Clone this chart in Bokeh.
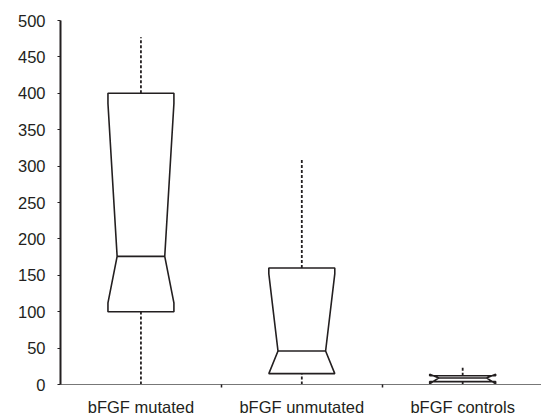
from bokeh.plotting import figure
from bokeh.models import Range1d, FixedTicker
from bokeh.embed import file_html
from bokeh.resources import INLINE

categories = ["bFGF mutated", "bFGF unmutated", "bFGF controls"]
lower = [0, 0, 0]
q1 = [100, 15, 4]
median = [176, 46, 9]
q3 = [400, 160, 12]
upper = [477, 310, 24]
notch_lo = [112, 15, 1]
notch_hi = [386, 152, 14]
y_ticks = [0, 50, 100, 150, 200, 250, 300, 350, 400, 450, 500]

BOX_HALF = 0.205
NOTCH_HALF = 0.148
INK = "#231f20"
FONT = "Liberation Sans"

p = figure(width=541, height=418, output_backend="svg", toolbar_location=None,
           x_range=Range1d(0, 2.99), y_range=Range1d(0, 500),
           min_border_left=60, min_border_right=0, min_border_top=20, min_border_bottom=30)
p.outline_line_color = None
p.grid.visible = False
p.background_fill_color = "white"

centers = [i + 0.5 for i in range(len(categories))]

xs, ys = [], []
for c, a, nl, m, nh, b in zip(centers, q1, notch_lo, median, notch_hi, q3):
    L, R, Ln, Rn = c - BOX_HALF, c + BOX_HALF, c - NOTCH_HALF, c + NOTCH_HALF
    xs.append([L, L, Ln, L, L, R, R, Rn, R, R])
    ys.append([a, nl, m, nh, b, b, nh, m, nl, a])
p.patches(xs, ys, fill_color=None, line_color=INK, line_width=1.6)

# medians
p.segment([c - NOTCH_HALF for c in centers], median, [c + NOTCH_HALF for c in centers], median,
          line_color=INK, line_width=1.6)
# whiskers
p.segment(centers, q3, centers, upper, line_color=INK, line_width=1.8, line_dash="3 2")
p.segment(centers, lower, centers, q1, line_color=INK, line_width=1.8, line_dash="3 2")

# x axis
xa = p.xaxis[0]
xa.ticker = FixedTicker(ticks=centers, minor_ticks=[1, 2])
xa.major_label_overrides = {c: n for c, n in zip(centers, categories)}
xa.major_tick_out = 0
xa.major_tick_in = 0
xa.minor_tick_out = 3
xa.minor_tick_in = 0
xa.minor_tick_line_color = INK
xa.minor_tick_line_width = 1.5
xa.axis_line_color = "#777777"
xa.axis_line_width = 1.2
xa.major_label_text_font = FONT
xa.major_label_text_font_size = "16.5px"
xa.major_label_text_color = INK
xa.major_label_standoff = 10

# y axis
ya = p.yaxis[0]
ya.ticker = FixedTicker(ticks=y_ticks)
ya.major_tick_out = 3
ya.major_tick_in = 0
ya.minor_tick_out = 0
ya.minor_tick_in = 0
ya.major_tick_line_color = INK
ya.major_tick_line_width = 1.2
ya.axis_line_color = INK
ya.axis_line_width = 2
ya.major_label_text_font = FONT
ya.major_label_text_font_size = "16.5px"
ya.major_label_text_color = INK
ya.major_label_text_align = "center"
ya.major_label_standoff = 12

open("out.html", "w").write(file_html(p, INLINE))
